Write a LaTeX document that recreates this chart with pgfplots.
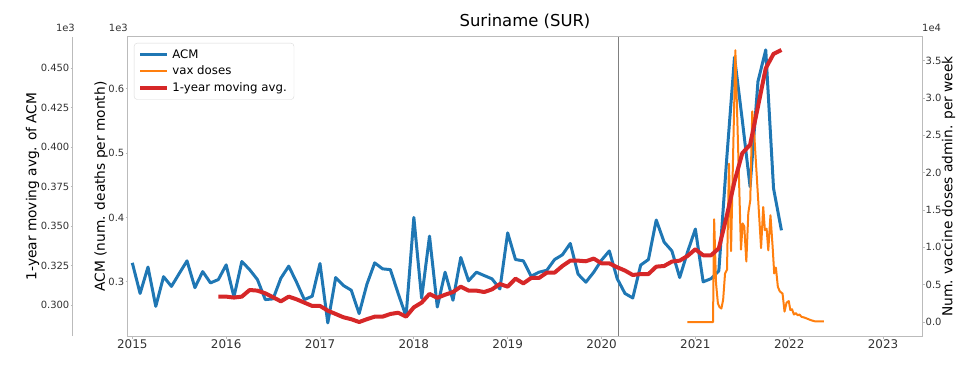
\documentclass[border=0pt]{standalone}
\usepackage{fontspec}
\setmainfont{DejaVu Sans}
\usepackage{pgfplots}
\usepackage{pgfplotstable}
\pgfplotsset{compat=1.18}

\definecolor{mblue}{HTML}{1F77B4}
\definecolor{morange}{HTML}{FF7F0E}
\definecolor{mred}{HTML}{D62728}
\definecolor{spine}{HTML}{BBBBBB}
\definecolor{ticktext}{HTML}{333333}

\pgfplotstableread{
x y
2015.000 329.5
2015.083 282
2015.167 323
2015.250 262
2015.333 308
2015.417 293
2015.500 313
2015.583 332.6
2015.667 291
2015.750 316
2015.833 298.4
2015.917 303.6
2016.000 326.4
2016.083 276.7
2016.167 331.6
2016.250 319
2016.333 303.6
2016.417 272.5
2016.500 273.6
2016.583 305.7
2016.667 324.4
2016.750 299.5
2016.833 272.5
2016.917 277.7
2017.000 328.5
2017.083 236.3
2017.167 306.7
2017.250 294.3
2017.333 287
2017.417 250.8
2017.500 296.4
2017.583 329.5
2017.667 320.2
2017.750 319
2017.833 281.9
2017.917 246.6
2018.000 400
2018.083 274.6
2018.167 371
2018.250 261
2018.333 315
2018.417 271.5
2018.500 337.8
2018.583 301.6
2018.667 315
2018.750 309.8
2018.833 304.7
2018.917 289
2019.000 376
2019.083 334.7
2019.167 332.6
2019.250 308.8
2019.333 315
2019.417 318
2019.500 334.7
2019.583 342
2019.667 359.6
2019.750 312
2019.833 299.5
2019.917 315
2020.000 333.7
2020.083 348
2020.167 305
2020.250 282
2020.333 275
2020.417 326
2020.500 334.7
2020.583 396
2020.667 361.7
2020.750 348
2020.833 306.7
2020.917 346.6
2021.000 382
2021.083 300
2021.167 305
2021.250 317
2021.333 489
2021.417 648.7
2021.500 551
2021.583 447.6
2021.667 610.9
2021.750 660
2021.833 445
2021.917 380
}\acmtable

\pgfplotstableread{
x y
2015.917 305.3
2016.000 305.3
2016.083 304.7
2016.167 305.3
2016.250 309.5
2016.333 309.1
2016.417 307.4
2016.500 304.9
2016.583 302.3
2016.667 305.3
2016.750 303.6
2016.833 301.5
2016.917 299.4
2017.000 299.4
2017.083 296.4
2017.167 294.3
2017.250 292.2
2017.333 291
2017.417 289.2
2017.500 291
2017.583 292.6
2017.667 292.6
2017.750 294.3
2017.833 295.1
2017.917 292.6
2018.000 298.5
2018.083 301.5
2018.167 307
2018.250 304.5
2018.333 306.5
2018.417 308.2
2018.500 311.6
2018.583 309.1
2018.667 309.1
2018.750 308.2
2018.833 309.9
2018.917 313.3
2019.000 311.6
2019.083 316.7
2019.167 313.7
2019.250 317.1
2019.333 317.1
2019.417 320.5
2019.500 320.5
2019.583 324.7
2019.667 328.1
2019.750 328.1
2019.833 327.7
2019.917 329.4
2020.000 326.4
2020.083 326.4
2020.167 323.9
2020.250 321.8
2020.333 319
2020.417 319.6
2020.500 319.6
2020.583 324.3
2020.667 324.7
2020.750 327.5
2020.833 328.1
2020.917 331.1
2021.000 335.3
2021.083 331.5
2021.167 331.5
2021.250 335.9
2021.333 356
2021.417 378.2
2021.500 396.2
2021.583 401.5
2021.667 425.7
2021.750 450
2021.833 459.1
2021.917 461.6
}\avgtable

\pgfplotstableread{
x y
2020.915 0
2021.188 0
2021.200 13750
2021.220 5200
2021.240 2500
2021.257 2000
2021.277 1800
2021.296 3000
2021.316 6500
2021.337 7000
2021.358 21200
2021.380 9500
2021.426 36400
2021.486 9700
2021.504 13200
2021.521 12800
2021.543 8100
2021.564 14600
2021.585 16300
2021.606 28200
2021.628 25000
2021.700 9900
2021.723 15400
2021.741 12300
2021.759 12500
2021.777 9600
2021.800 14300
2021.823 10100
2021.840 6500
2021.858 7300
2021.879 4700
2021.900 4100
2021.929 3800
2021.950 1400
2021.972 2600
2021.995 2800
2022.012 1600
2022.030 1700
2022.050 1000
2022.070 1200
2022.090 900
2022.110 1000
2022.130 700
2022.160 600
2022.190 450
2022.230 250
2022.270 100
2022.310 100
2022.370 100
}\vaxtable

\pgfplotsset{
  base/.style={
    scale only axis, width=794bp, height=299bp,
    xmin=2014.954, xmax=2023.415,
    axis line style={spine, line width=1bp},
    tick style={spine, line width=0.8bp},
    major tick length=2.5bp,
    tick align=outside,
    scaled y ticks=false, scaled x ticks=false,
    /pgf/number format/assume math mode=true,
    ticklabel style={text=ticktext},
    yticklabel style={font=\fontsize{10}{12}\selectfont, inner sep=1bp},
    xticklabel style={font=\fontsize{12}{14}\selectfont, inner sep=1bp},
    label style={font=\fontsize{13.8}{16}\selectfont},
    clip=false,
  },
}

\begin{document}
\begin{tikzpicture}
\useasboundingbox (-128bp,-45bp) rectangle (839bp,336bp);

% main ACM axis
\begin{axis}[base, at={(0,0)}, anchor=south west,
  ymin=216, ymax=680,
  xtick={2015,2016,2017,2018,2019,2020,2021,2022,2023},
  xticklabels={2015,2016,2017,2018,2019,2020,2021,2022,2023},
  xtick pos=left, ytick pos=left,
  ytick={300,400,500,600}, yticklabels={0.3,0.4,0.5,0.6},
  ylabel={ACM (num. deaths per month)},
  ylabel style={at={(axis description cs:-0.034,0.5)}, anchor=center},
  title={Suriname (SUR)},
  title style={font=\fontsize{16.5}{19}\selectfont, at={(axis description cs:0.5,1)}, anchor=base, yshift=4.3bp},
]
\addplot[gray, line width=1bp] coordinates {(2020.18,216) (2020.18,680)};
\addplot[mblue, line width=3bp, line join=round] table[x=x,y=y] {\acmtable};
\node[anchor=base east, font=\fontsize{10}{12}\selectfont, text=ticktext, inner sep=0pt] at (axis description cs:0,1) [yshift=5bp] {1e3};
\end{axis}

% vaccine axis (right)
\begin{axis}[base, at={(0,0)}, anchor=south west,
  axis y line*=right, axis x line=none,
  ymin=-1875, ymax=38173,
  ytick={0,5000,10000,15000,20000,25000,30000,35000},
  yticklabels={0.0,0.5,1.0,1.5,2.0,2.5,3.0,3.5},
  ylabel={Num. vaccine doses admin. per week},
  ylabel style={at={(axis description cs:1.0335,0.5)}, anchor=center},
]
\addplot[morange, line width=2bp, line join=round] table[x=x,y=y] {\vaxtable};
\node[anchor=base west, font=\fontsize{10}{12}\selectfont, text=ticktext, inner sep=0pt] at (axis description cs:1,1) [yshift=5bp] {1e4};
\end{axis}

% moving average axis (outer left)
\begin{axis}[base, at={(0,0)}, anchor=south west,
  axis y line*=left, axis x line=none,
  axis y line shift=55bp,
  ymin=280.35, ymax=469.8,
  ytick={300,325,350,375,400,425,450},
  yticklabels={0.300,0.325,0.350,0.375,0.400,0.425,0.450},
  ylabel={1-year moving avg. of ACM},
  ylabel style={at={(axis description cs:-0.1203,0.5)}, anchor=center},
  legend image code/.code={\draw[#1] (0bp,0bp) -- (27bp,0bp);},
  legend cell align=left,
  legend style={at={(axis description cs:0,1)}, anchor=north west, xshift=6bp, yshift=-6bp,
    draw=black!15, rounded corners=3bp, fill=white,
    font=\fontsize{11.8}{14}\selectfont, nodes={inner sep=3.2bp},
    inner xsep=4bp, inner ysep=3bp},
]
\addlegendimage{mblue, line width=3bp}
\addlegendentry{ACM}
\addlegendimage{morange, line width=2bp}
\addlegendentry{vax doses}
\addplot[mred, line width=4bp, line join=round] table[x=x,y=y] {\avgtable};
\addlegendentry{1-year moving avg.}
\node[anchor=base east, font=\fontsize{10}{12}\selectfont, text=ticktext, inner sep=0pt] at (axis description cs:-0.0667,1) [yshift=5bp] {1e3};
\end{axis}
\end{tikzpicture}
\end{document}
